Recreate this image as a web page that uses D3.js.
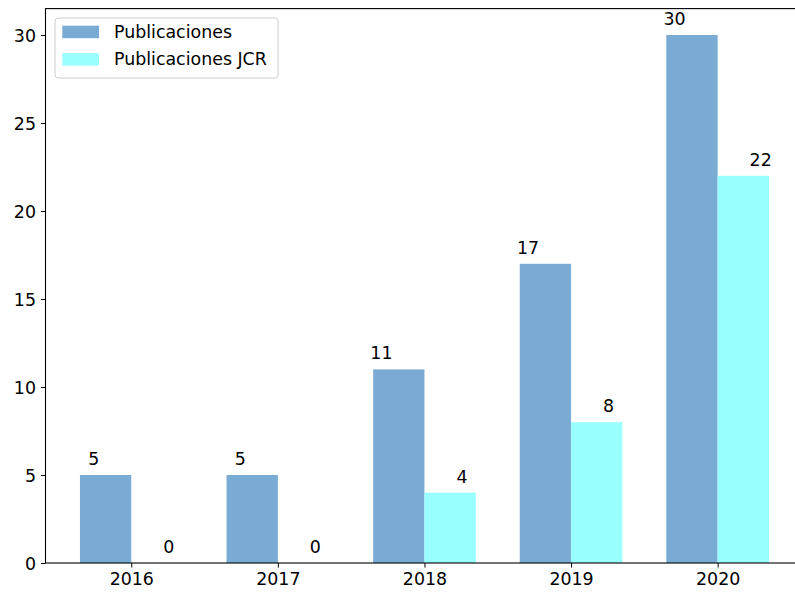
<!DOCTYPE html>
<html>
<head>
<meta charset="utf-8">
<script src="https://cdn.jsdelivr.net/npm/d3@7"></script>
<style>
body { margin: 0; background: #fff; overflow: hidden; }
text { font-family: "DejaVu Sans", sans-serif; fill: #000; }
</style>
</head>
<body>
<script>
// data
var years = ["2016", "2017", "2018", "2019", "2020"];
var publicaciones = [5, 5, 11, 17, 30];
var publicacionesJCR = [0, 0, 4, 8, 22];
var yTicks = [0, 5, 10, 15, 20, 25, 30];
var seriesNames = ["Publicaciones", "Publicaciones JCR"];

// dimensions
var width = 795;
var height = 597;
var margin = { top: 8.6, left: 45.5, bottom: 34 };
var plotRight = 803.4;
var barW = 0.35;
var fontSize = 17.4;

var svg = d3.select("body")
    .append("svg")
    .attr("width", width)
    .attr("height", height);

var x = d3.scaleLinear()
    .domain([-0.585, 4.585])
    .range([margin.left, plotRight]);

var y = d3.scaleLinear()
    .domain([0, 31.5])
    .range([height - margin.bottom, margin.top]);

var colors = ["#7aabd4", "#99ffff"];

// bars
var groups = [publicaciones, publicacionesJCR];
groups.forEach(function(vals, s) {
    svg.selectAll(".bar" + s)
        .data(vals)
        .enter()
        .append("rect")
        .attr("x", function(d, i) { return x(s === 0 ? i - barW : i); })
        .attr("y", function(d) { return y(d); })
        .attr("width", function(d, i) { return x(barW) - x(0); })
        .attr("height", function(d) { return y(0) - y(d); })
        .attr("fill", colors[s]);

    // value labels
    svg.selectAll(".lab" + s)
        .data(vals)
        .enter()
        .append("text")
        .attr("x", function(d, i) { return x(s === 0 ? i - 0.218 : i + 0.218); })
        .attr("y", function(d) { return y(d) - 10; })
        .attr("text-anchor", s === 0 ? "end" : "start")
        .style("font-size", fontSize + "px")
        .text(function(d) { return d; });
});

// axes
var xAxis = d3.axisBottom(x)
    .tickValues(d3.range(years.length))
    .tickFormat(function(d) { return years[d]; })
    .tickSize(4.5)
    .tickPadding(5);

var yAxis = d3.axisLeft(y)
    .tickValues(yTicks)
    .tickSize(4.5)
    .tickPadding(5);

var gx = svg.append("g")
    .attr("transform", "translate(0," + y(0) + ")")
    .call(xAxis);

var gy = svg.append("g")
    .attr("transform", "translate(" + margin.left + ",0)")
    .call(yAxis);

[gx, gy].forEach(function(g) {
    g.select(".domain").remove();
    g.selectAll("line").attr("stroke", "#000").attr("stroke-width", 1);
    g.selectAll("text").style("font-size", fontSize + "px").attr("font-family", "DejaVu Sans").attr("fill", "#000");
});
gx.selectAll("text").attr("dy", "0.71em");
gy.selectAll("text").attr("dy", "0.35em");

// frame
svg.append("rect")
    .attr("x", margin.left)
    .attr("y", margin.top)
    .attr("width", plotRight - margin.left)
    .attr("height", y(0) - margin.top)
    .attr("fill", "none")
    .attr("stroke", "#000")
    .attr("stroke-width", 1.1);

// legend
var legend = svg.append("g").attr("transform", "translate(55,18)");
legend.append("rect")
    .attr("width", 223)
    .attr("height", 60)
    .attr("rx", 3)
    .attr("fill", "#fff")
    .attr("fill-opacity", 0.8)
    .attr("stroke", "#cccccc")
    .attr("stroke-width", 1);

seriesNames.forEach(function(name, i) {
    legend.append("rect")
        .attr("x", 7.3)
        .attr("y", 7.7 + i * 27.4)
        .attr("width", 36.7)
        .attr("height", 12.5)
        .attr("fill", colors[i]);
    legend.append("text")
        .attr("x", 59)
        .attr("y", 14 + i * 27.4)
        .attr("dy", "0.35em")
        .style("font-size", fontSize + "px")
        .text(name);
});
</script>
</body>
</html>
